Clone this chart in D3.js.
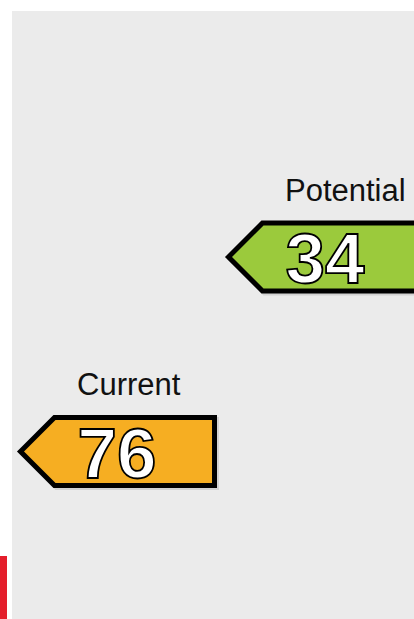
<!DOCTYPE html>
<html>
<head>
<meta charset="utf-8">
<script src="https://cdn.jsdelivr.net/npm/d3@7"></script>
<style>
  html, body { margin: 0; padding: 0; background: #ffffff; }
  svg { display: block; }
</style>
</head>
<body>
<svg id="chart" width="414" height="619"></svg>
<script>
const labels = ["Current", "Potential"];
const ratings = [76, 34];
const colors = ["#f6ae22", "#9bca3c"];

const W = 414, H = 619;
const svg = d3.select("#chart");

// panel background
svg.append("rect").attr("x", 12).attr("y", 11).attr("width", W - 12).attr("height", H - 11).attr("fill", "#ebebeb");
// red band edge at bottom-left
svg.append("rect").attr("x", 0).attr("y", 556).attr("width", 7).attr("height", H - 556).attr("fill", "#e41e2b");

const x = d3.scaleBand().domain(labels).range([12, 428]).paddingInner(0).paddingOuter(0);
const y = d3.scaleLinear().domain([0, 100]).range([99.5, 562.6]);

const arrowW = 200, half = 34, sw = 5;

const g = svg.selectAll("g.arrow").data(labels.map((l, i) => ({label: l, value: ratings[i], color: colors[i]})))
  .enter().append("g").attr("class", "arrow")
  .attr("transform", d => `translate(${x(d.label) + 5},${y(d.value)})`);

function arrowPath(s) {
  const p = d3.path();
  p.moveTo(s, 0);
  p.lineTo(s + half, -half);
  p.lineTo(arrowW - sw / 2, -half);
  p.lineTo(arrowW - sw / 2, half);
  p.lineTo(s + half, half);
  p.closePath();
  return p.toString();
}

// subtle shadow
g.append("path")
  .attr("d", arrowPath(3.5))
  .attr("transform", "translate(2,2)")
  .attr("fill", "#d2d2d2")
  .attr("stroke", "#d2d2d2")
  .attr("stroke-width", sw);

g.append("path")
  .attr("d", arrowPath(3.5))
  .attr("fill", d => d.color)
  .attr("stroke", "#000")
  .attr("stroke-width", sw)
  .attr("stroke-linejoin", "miter");

g.append("text")
  .attr("x", arrowW / 2)
  .attr("y", 26.5)
  .attr("text-anchor", "middle")
  .attr("font-family", "Liberation Sans, Arial, sans-serif")
  .attr("font-weight", "bold")
  .attr("font-size", 71)
  .attr("fill", "#fff")
  .attr("stroke", "#000")
  .attr("stroke-width", 1.8)
  .text(d => d.value);

g.append("text")
  .attr("x", 60)
  .attr("y", -56)
  .attr("font-family", "Liberation Sans, Arial, sans-serif")
  .attr("font-size", 31)
  .attr("fill", "#111")
  .text(d => d.label);
</script>
</body>
</html>
